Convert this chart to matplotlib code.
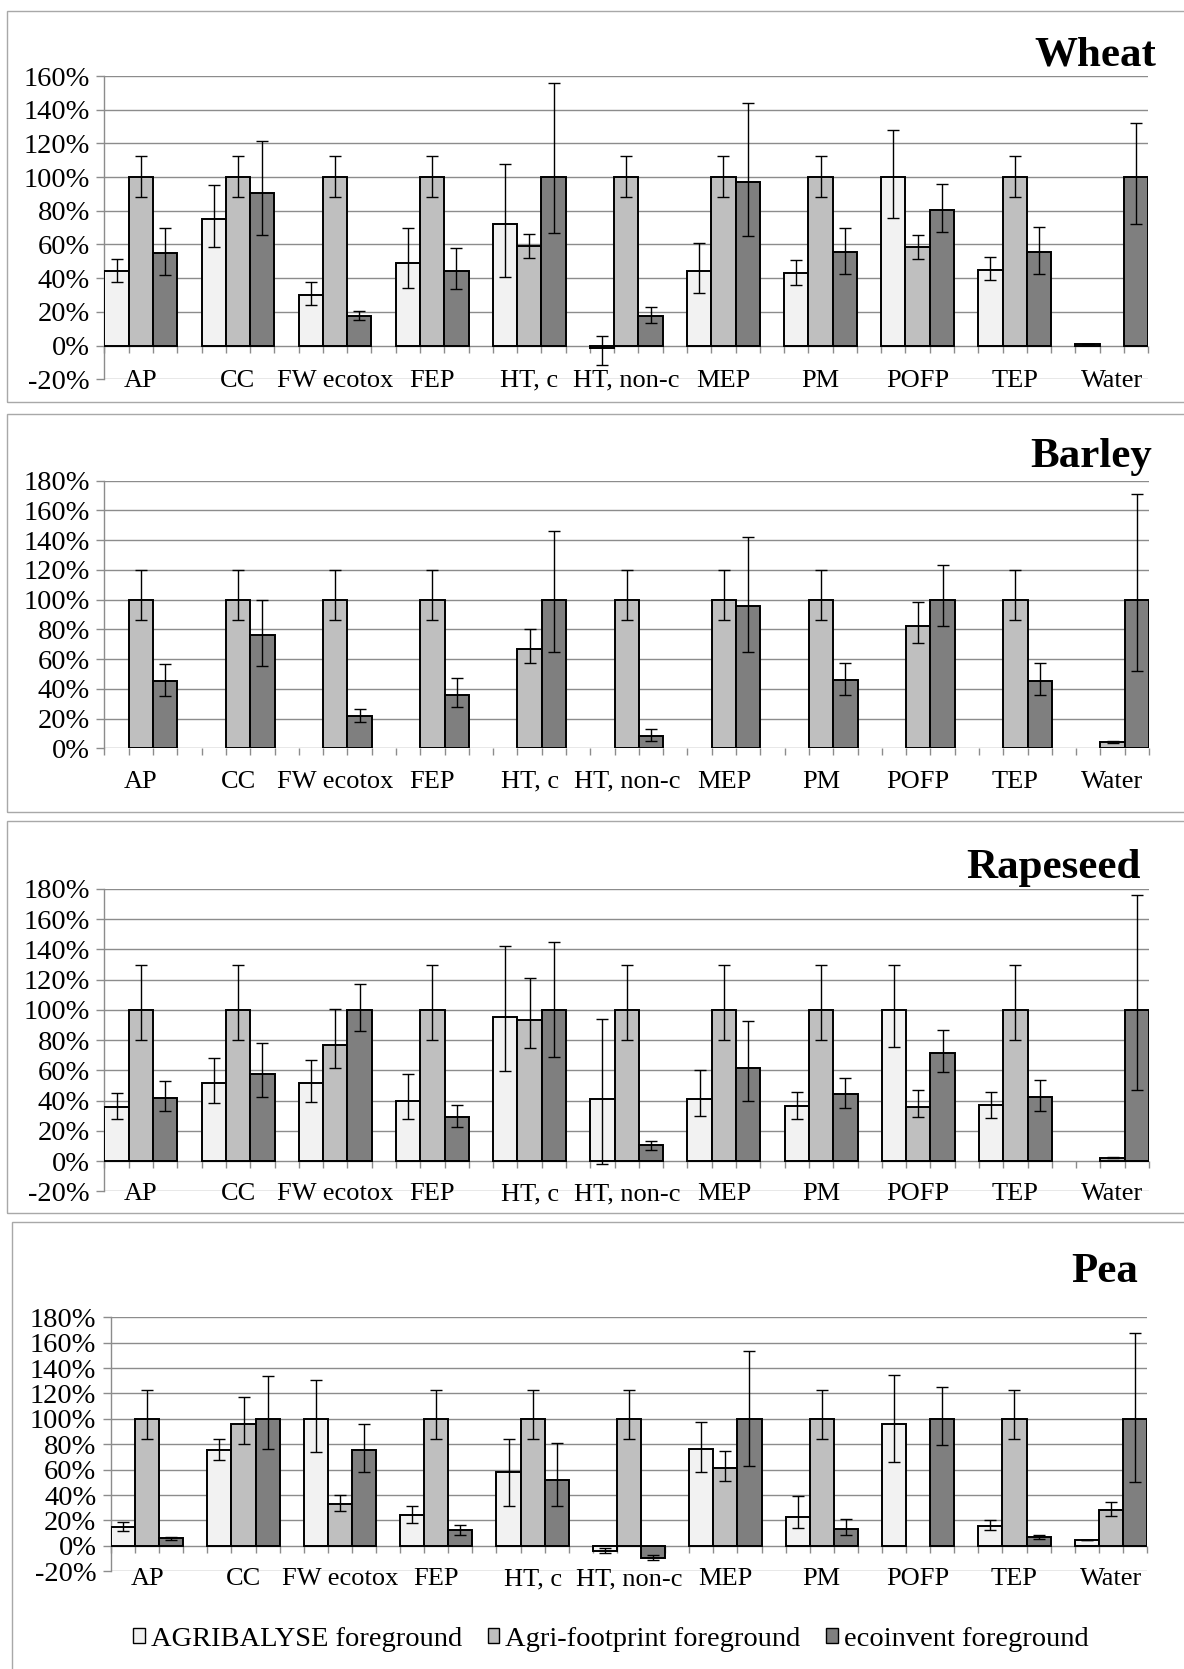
import numpy as np
import matplotlib
matplotlib.use("Agg")
import matplotlib.pyplot as plt
from matplotlib.patches import Patch, Rectangle
from matplotlib.ticker import FuncFormatter
from matplotlib.transforms import blended_transform_factory
from matplotlib.markers import TICKDOWN

plt.rcParams["font.family"] = ["Liberation Serif", "DejaVu Serif"]

nan = np.nan

categories = ["AP", "CC", "FW ecotox", "FEP", "HT, c", "HT, non-c",
              "MEP", "PM", "POFP", "TEP", "Water"]
series_names = ["AGRIBALYSE foreground", "Agri-footprint foreground",
                "ecoinvent foreground"]

# ---- Wheat (% of reference) ----
wheat_agribalyse = [44, 75, 30, 49, 72, -1.5, 44, 43, 100, 45, 0.8]
wheat_agribalyse_lo = [6.3, 16.5, 6, 15, 31, 10, 12.5, 7, 24, 6, 0]
wheat_agribalyse_hi = [7.4, 20.5, 7.5, 20.5, 36, 7, 17, 8, 28, 7.7, 0]
wheat_agrifootprint = [100, 100, 100, 100, 59, 100, 100, 100, 58.5, 100, nan]
wheat_agrifootprint_lo = [12, 12, 12, 12, 7, 12, 12, 12, 7, 12, 0]
wheat_agrifootprint_hi = [12.5, 12.5, 12.5, 12.5, 7.3, 12.5, 12.5, 12.5, 7.3, 12.5, 0]
wheat_ecoinvent = [55, 90.5, 17.4, 44, 100, 17.4, 96.8, 55.7, 80.4, 55.5, 100]
wheat_ecoinvent_lo = [13, 25, 2, 10.5, 33, 4, 32, 13, 13, 12.8, 28]
wheat_ecoinvent_hi = [15, 31, 3, 14, 56, 5.5, 47.4, 13.8, 15.8, 15, 32]

# ---- Barley ----
barley_agribalyse = [nan] * 11
barley_agribalyse_lo = [0] * 11
barley_agribalyse_hi = [0] * 11
barley_agrifootprint = [100, 100, 100, 100, 67, 100, 100, 100, 82.5, 100, 4]
barley_agrifootprint_lo = [14, 14, 14, 14, 9.8, 14, 14, 14, 12, 14, 0.4]
barley_agrifootprint_hi = [20, 20, 20, 20, 13.3, 20, 20, 20, 16.2, 20, 0.7]
barley_ecoinvent = [45, 76, 22, 36, 100, 8.3, 95.5, 46, 100, 45.5, 100]
barley_ecoinvent_lo = [10, 20.6, 4.3, 8.5, 35, 3.4, 31, 10.3, 17.5, 9.8, 48]
barley_ecoinvent_hi = [12, 24, 4.2, 11, 46, 4.7, 46.4, 11.2, 23.5, 11.9, 71]

# ---- Rapeseed ----
rapeseed_agribalyse = [36, 51.4, 51.8, 39.7, 95.5, 41, 41, 36.6, 100, 37.1, nan]
rapeseed_agribalyse_lo = [8, 13, 12.8, 12, 36, 43, 11, 9, 24.5, 8.4, 0]
rapeseed_agribalyse_hi = [9, 17, 15, 18, 46.5, 53, 19, 9.3, 30, 8.8, 0]
rapeseed_agrifootprint = [100, 100, 77, 100, 93.3, 100, 100, 100, 36, 100, 2.2]
rapeseed_agrifootprint_lo = [20, 20, 15.5, 20, 18.3, 20, 20, 20, 7, 20, 0.4]
rapeseed_agrifootprint_hi = [30, 30, 23.5, 30, 28, 30, 30, 30, 11, 30, 0.6]
rapeseed_ecoinvent = [41.5, 57.4, 100, 29.3, 100, 10.4, 61.8, 44.1, 71.3, 42.1, 100]
rapeseed_ecoinvent_lo = [8.5, 15.3, 14, 6.8, 31, 2.9, 22, 9, 12.2, 8.8, 53]
rapeseed_ecoinvent_hi = [11.4, 20.5, 17, 8, 45, 3.1, 30.6, 10.8, 15.4, 11.3, 76]

# ---- Pea ----
pea_agribalyse = [14.7, 75.9, 100, 24.2, 57.8, -4, 76.1, 22.6, 96.1, 16, 4.7]
pea_agribalyse_lo = [3, 8.2, 26, 6.3, 26, 1.8, 18, 8.2, 30, 3.1, 0]
pea_agribalyse_hi = [3.9, 8.6, 31, 7.6, 26, 2.2, 21.3, 16.3, 38.8, 4.5, 0]
pea_agrifootprint = [100, 95.8, 32.8, 100, 100, 100, 61.2, 100, nan, 100, 28.1]
pea_agrifootprint_lo = [16, 15.7, 5.2, 16, 16, 16, 10, 16, 0, 16, 4.5]
pea_agrifootprint_hi = [23, 21.8, 7.4, 23, 23, 23, 13.9, 23, 0, 23, 6.3]
pea_ecoinvent = [6, 100, 75.9, 12.3, 51.5, -9.2, 100, 13.1, 100, 6.8, 100]
pea_ecoinvent_lo = [1.3, 24, 17.6, 3.6, 19.7, 2.1, 37, 4.7, 20.7, 1.3, 50]
pea_ecoinvent_hi = [1.4, 33.4, 20.4, 4, 29.9, 2.4, 53.6, 7.9, 25.5, 1.9, 68]

colors = ["#F2F2F2", "#BFBFBF", "#7F7F7F"]
grid_color = "#8c8c8c"

W, H = 1184, 1669
fig = plt.figure(figsize=(W / 100, H / 100), dpi=100)

panels = [
    dict(title="Wheat", ylim=(-20, 160),
         box=(104.5, 1148.2, 76.0, 379.3), label_base=386.7,
         title_pos=(1156.6, 65.0), frame=(6.9, 10.6, 402.5),
         data=[(wheat_agribalyse, wheat_agribalyse_lo, wheat_agribalyse_hi),
               (wheat_agrifootprint, wheat_agrifootprint_lo, wheat_agrifootprint_hi),
               (wheat_ecoinvent, wheat_ecoinvent_lo, wheat_ecoinvent_hi)]),
    dict(title="Barley", ylim=(0, 180),
         box=(104.5, 1149.0, 480.7, 748.3), label_base=787.5,
         title_pos=(1152.0, 466.7), frame=(6.9, 414.0, 811.7),
         data=[(barley_agribalyse, barley_agribalyse_lo, barley_agribalyse_hi),
               (barley_agrifootprint, barley_agrifootprint_lo, barley_agrifootprint_hi),
               (barley_ecoinvent, barley_ecoinvent_lo, barley_ecoinvent_hi)]),
    dict(title="Rapeseed", ylim=(-20, 180),
         box=(104.5, 1149.0, 889.0, 1191.3), label_base=1200.0,
         title_pos=(1140.5, 877.7), frame=(6.9, 821.0, 1213.0),
         data=[(rapeseed_agribalyse, rapeseed_agribalyse_lo, rapeseed_agribalyse_hi),
               (rapeseed_agrifootprint, rapeseed_agrifootprint_lo, rapeseed_agrifootprint_hi),
               (rapeseed_ecoinvent, rapeseed_ecoinvent_lo, rapeseed_ecoinvent_hi)]),
    dict(title="Pea", ylim=(-20, 180),
         box=(111.0, 1147.0, 1317.3, 1571.3), label_base=1585.0,
         title_pos=(1137.8, 1281.7), frame=(11.5, 1222.0, 1720.0),
         data=[(pea_agribalyse, pea_agribalyse_lo, pea_agribalyse_hi),
               (pea_agrifootprint, pea_agrifootprint_lo, pea_agrifootprint_hi),
               (pea_ecoinvent, pea_ecoinvent_lo, pea_ecoinvent_hi)]),
]

pct = FuncFormatter(lambda v, _: f"{int(round(v))}%")
n_cat = len(categories)
slot = 4  # three bars plus one empty bar-width per category
unit_edges = np.arange(slot * n_cat)  # 0 .. 43

for p in panels:
    # panel frame (runs off the right side of the page)
    fx, fy0, fy1 = p["frame"]
    fig.patches.append(Rectangle((fx / W, 1 - fy1 / H), (W + 50 - fx) / W,
                                 (fy1 - fy0) / H, transform=fig.transFigure,
                                 fill=False, ec="#a8a8a8", lw=1.0, zorder=0))

    l, r, t, b = p["box"]
    ax = fig.add_axes([l / W, 1 - b / H, (r - l) / W, (b - t) / H])
    ax.set_facecolor("none")
    ax.set_xlim(0, slot * n_cat - 1)
    ax.set_ylim(*p["ylim"])
    ax.set_yticks(np.arange(p["ylim"][0], p["ylim"][1] + 1, 20))
    ax.yaxis.set_major_formatter(pct)
    ax.yaxis.grid(True, color=grid_color, lw=1.0, zorder=0)
    ax.set_axisbelow(True)
    ax.set_xticks([])
    for s in ["top", "right", "bottom"]:
        ax.spines[s].set_visible(False)
    ax.spines["left"].set_color(grid_color)
    ax.spines["left"].set_linewidth(1.0)
    ax.tick_params(axis="y", length=6, width=1.0, color=grid_color,
                   labelsize=20.5, pad=4.5)

    # category axis at zero with a tick at each bar boundary
    ax.plot(unit_edges, np.zeros_like(unit_edges), ls="none", marker=TICKDOWN,
            ms=5, mew=1.0, color=grid_color, clip_on=False, zorder=1)

    idx = np.arange(n_cat)
    for j, (vals, lo, hi) in enumerate(p["data"]):
        x = slot * idx + j + 0.5
        v = np.asarray(vals, dtype=float)
        ax.bar(x, v, width=1.0, color=colors[j], edgecolor="black",
               linewidth=1.4, zorder=3)
        ax.errorbar(x, v, yerr=[lo, hi], fmt="none", ecolor="black",
                    elinewidth=1.0, capsize=4.2, capthick=1.0, zorder=4)

    tr = blended_transform_factory(ax.transData, fig.transFigure)
    for i, c in enumerate(categories):
        ax.text(slot * i + 1.5, 1 - p["label_base"] / H, c, transform=tr,
                ha="center", va="baseline", fontsize=19, clip_on=False)

    tx, ty = p["title_pos"]
    fig.text(tx / W, 1 - ty / H, p["title"], ha="right", va="baseline",
             fontsize=31, fontweight="bold")

handles = [Patch(facecolor=c, edgecolor="black", linewidth=1.0) for c in colors]
fig.legend(handles, series_names, loc="center left",
           bbox_to_anchor=(133 / W, 1 - 1639 / H), ncol=3, frameon=False,
           fontsize=20.5, handlelength=0.42, handleheight=0.42,
           handletextpad=0.2, columnspacing=0.9, borderpad=0,
           borderaxespad=0)

fig.savefig("out.png", dpi=100)
